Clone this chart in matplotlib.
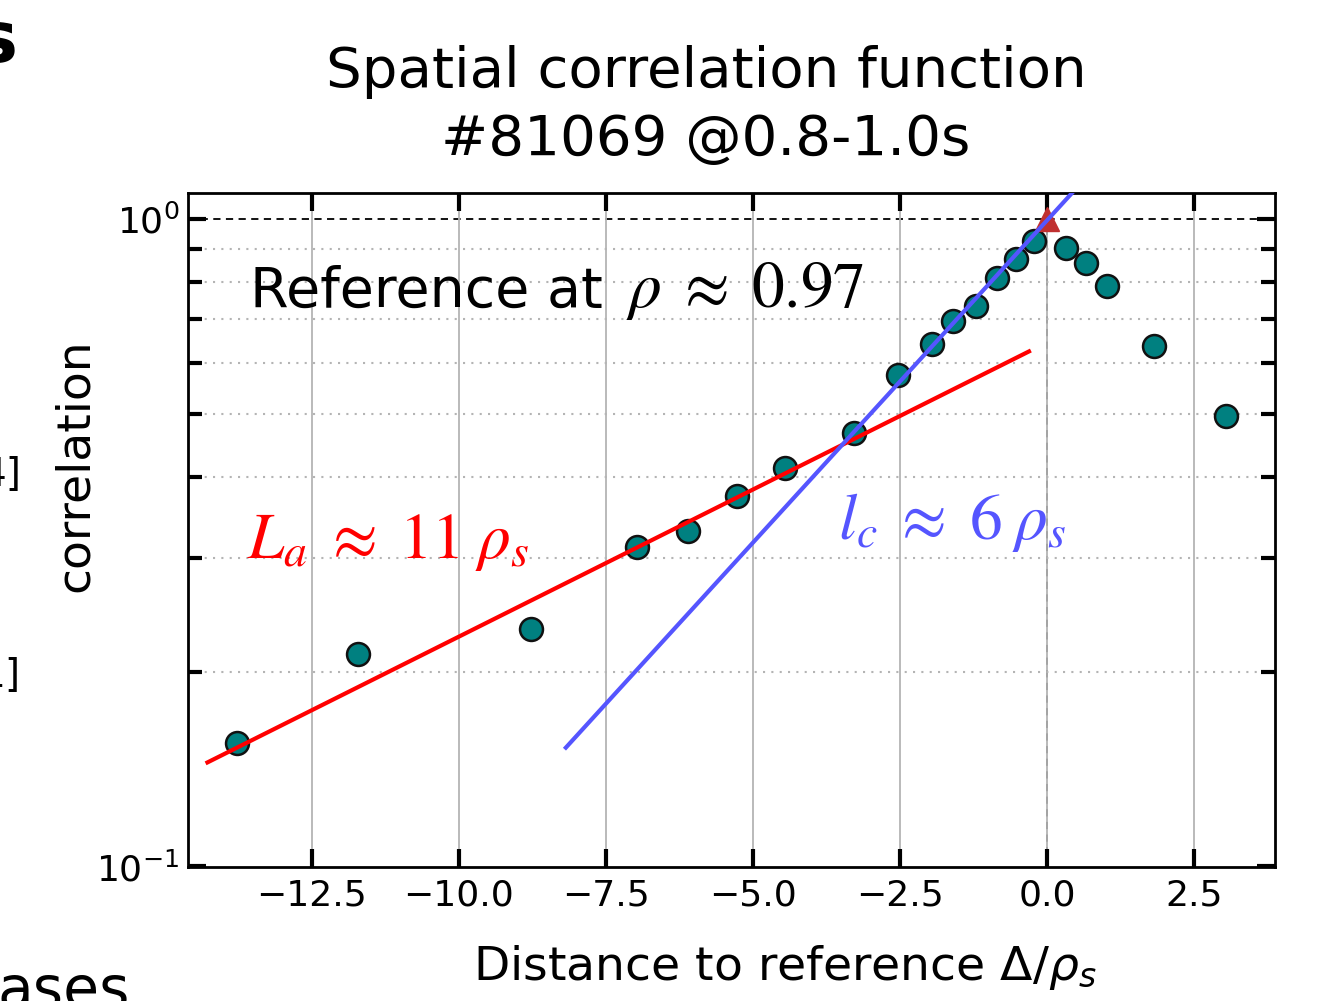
import numpy as np
import matplotlib.pyplot as plt
from matplotlib.ticker import NullFormatter

plt.rcParams['font.family'] = ['DejaVu Sans']

# correlation vs. distance to the reference channel (Delta / rho_s)
dist = [-13.76, -11.72, -8.77, -6.97, -6.10, -5.27, -4.45, -3.28, -2.53,
        -1.96, -1.60, -1.21, -0.855, -0.527, -0.233,
        0.323, 0.658, 1.014, 1.818, 3.04]
corr = [0.155, 0.213, 0.233, 0.311, 0.330, 0.373, 0.412, 0.467, 0.574,
        0.641, 0.695, 0.734, 0.811, 0.868, 0.925,
        0.903, 0.856, 0.788, 0.637, 0.496]

ref_dist = [0.0]
ref_corr = [1.0]

# exponential fits  A * exp(x / L)
fit_La_range = [-14.27, -0.31]
fit_La_amp, fit_La_len = 0.645, 9.55
fit_lc_range = [-8.18, 0.8]
fit_lc_amp, fit_lc_len = 0.996, 4.36

xticks = [-12.5, -10.0, -7.5, -5.0, -2.5, 0.0, 2.5]

fig = plt.figure(figsize=(13.27, 10.01), dpi=100)
ax = fig.add_axes([0.1417, 0.1339, 0.8191, 0.6733])
ax.set_yscale('log')
ax.set_xlim(-14.6, 3.87)
ax.set_ylim(0.0998, 1.097)
ax.set_xticks(xticks)
ax.set_xticklabels([f'{t:.1f}'.replace('-', '\u2212') for t in xticks])
ax.yaxis.set_minor_formatter(NullFormatter())

# grid
ax.grid(axis='x', which='major', color='#b4b4b4', lw=1.3, zorder=0)
ax.grid(axis='y', which='minor', color='#b4b4b4', ls=(0, (1, 3)), lw=1.5, zorder=0)
ax.axhline(1.0, color='k', ls=(0, (4, 3)), lw=1.3, zorder=1)
ax.axvline(0.0, color='k', ls=(0, (4, 3)), lw=1.3, zorder=1)

# data
ax.plot(dist, corr, 'o', ms=16.5, mfc='#008080', mec='#111111', mew=1.8, zorder=3)
ax.plot(ref_dist, ref_corr, '^', ms=17, color='#c03030', zorder=3)

xa = np.linspace(*fit_La_range, 50)
ax.plot(xa, fit_La_amp * np.exp(xa / fit_La_len), color='#ff0000', lw=3, zorder=4)
xc = np.linspace(*fit_lc_range, 50)
ax.plot(xc, fit_lc_amp * np.exp(xc / fit_lc_len), color='#5555ff', lw=3, zorder=4)

# annotations
ax.text(-13.55, 0.731, 'Reference at', fontsize=40, ha='left', va='baseline')
ax.text(-7.15, 0.731, r'$\rho\;\approx\;0.97$', fontsize=47,
        ha='left', va='baseline', math_fontfamily='stix')
ax.text(-13.6, 0.318, r'$L_a\;\approx\;11\;\rho_s$', fontsize=47, color='#ff0000',
        ha='left', va='center', math_fontfamily='stix')
ax.text(-3.55, 0.340, r'$l_c\;\approx\;6\;\rho_s$', fontsize=47, color='#5555ff',
        ha='left', va='center', math_fontfamily='stix')

# axes styling
for s in ax.spines.values():
    s.set_linewidth(2)
ax.tick_params(which='both', direction='in', top=True, right=True,
               width=3, labelsize=26, pad=8)
ax.tick_params(which='major', length=13)
ax.tick_params(which='minor', length=10)
ax.tick_params(axis='y', pad=6)

fig.text(0.532, 0.894, 'Spatial correlation function\n#81069 @0.8-1.0s',
         ha='center', va='center', fontsize=40.5, linespacing=1.32)
fig.text(75 / 1327, 1 - 465 / 1001, 'correlation', rotation=90,
         ha='center', va='center', fontsize=34)
fig.text(785 / 1327, 1 - 968 / 1001, r'Distance to reference $\Delta/\rho_s$',
         ha='center', va='center', fontsize=34)

# fragments of the surrounding slide
fig.text(0.013, 0.938, 's', ha='right', va='baseline', fontsize=52, weight='bold')
fig.text(21 / 1327, 0.525, '4]', ha='right', va='center', fontsize=28)
fig.text(21 / 1327, 0.325, '1]', ha='right', va='center', fontsize=28)
fig.text(-0.002, -0.007, 'ases', ha='left', va='baseline', fontsize=42)

fig.savefig('out.png', dpi=100)
